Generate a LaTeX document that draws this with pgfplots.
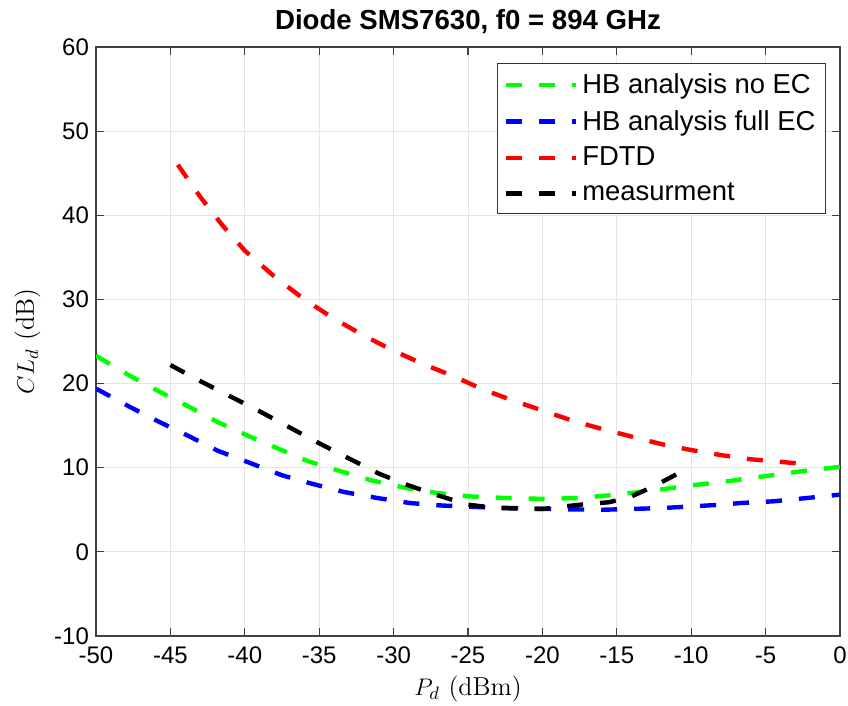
\documentclass[border=0pt]{standalone}
\usepackage{pgfplots}
\pgfplotsset{compat=1.18}
\usepackage{fontspec}
\setsansfont{Liberation Sans}
\begin{document}
\begin{tikzpicture}
\begin{axis}[
  scale only axis,
  width=372pt, height=294.5pt,
  xmin=-50, xmax=0, ymin=-10, ymax=60,
  xtick={-50,-45,...,0}, ytick={-10,0,...,60},
  /pgf/number format/assume math mode=true,
  tick label style={font=\sffamily\fontsize{12}{14}\selectfont},
  xticklabel style={yshift=-2pt},
  tick align=inside, major tick length=4pt,
  axis line style={black!75, line width=0.6pt},
  tick style={black!75, line width=0.6pt},
  grid=major, major grid style={gray!20, line width=0.5pt},
  title={\sffamily\bfseries\fontsize{13.8}{16}\selectfont Diode SMS7630, f0 = 894 GHz},
  title style={yshift=-3pt},
  xlabel={\fontsize{13}{15}\selectfont $P_d$ (dBm)},
  ylabel={\fontsize{13}{15}\selectfont $CL_d$ (dB)},
  xlabel style={yshift=1pt},
  ylabel style={yshift=0pt},
  legend style={at={(0.981,0.973)}, anchor=north east, draw=black!80, line width=0.5pt,
    font=\sffamily\fontsize{13.7}{16}\selectfont, row sep=3pt, inner sep=3pt},
  legend cell align=left,
  legend image code/.code={\draw[#1] (0pt,0pt) -- (35pt,0pt);},
  every axis plot/.append style={line width=2.2pt, dash pattern=on 8pt off 8.5pt},
]
\addplot[color={rgb,1:red,0;green,1;blue,0}] coordinates {
(-50,23.3) (-47.7,20.9) (-45.7,19.0) (-43.7,17.2) (-41.8,15.4) (-39.8,13.8) (-37.8,12.3)
(-35.8,10.8) (-33.6,9.6) (-31.5,8.5) (-29.2,7.6) (-27.1,7.0) (-25,6.6) (-22.5,6.4)
(-20,6.3) (-17.5,6.4) (-15,6.8) (-12.5,7.3) (-10,7.9) (-7.5,8.4) (-5,9.0) (-2.5,9.6) (0,10.1)};
\addlegendentry{HB analysis no EC}
\addplot[color=blue] coordinates {
(-50,19.4) (-47.7,17.2) (-45.7,15.4) (-43.7,13.7) (-41.8,12.0) (-39.7,10.6) (-37.5,9.1)
(-35.5,8.1) (-33.3,7.1) (-31.1,6.4) (-28.9,5.8) (-26.7,5.5) (-24,5.3) (-20,5.1)
(-16,5.0) (-12,5.2) (-8,5.6) (-6.7,5.8) (-4.5,6.0) (-2.2,6.4) (0,6.8)};
\addlegendentry{HB analysis full EC}
\addplot[color=red] coordinates {
(-44.5,46) (-43,42.2) (-41.5,38.8) (-40,35.8) (-38,32.7) (-36,30) (-34,27.7) (-32,25.7)
(-30,23.9) (-28,22.3) (-26,20.9) (-24,19.3) (-22,18) (-20,16.8) (-18,15.6) (-16,14.6)
(-14,13.7) (-12,12.8) (-10,12.1) (-8,11.5) (-6,11.0) (-4,10.7) (-2.8,10.5)};
\addlegendentry{FDTD}
\addplot[color=black] coordinates {
(-45,22.2) (-43,20.3) (-41,18.5) (-39,16.7) (-37,14.8) (-35,12.9) (-33,11.1) (-31,9.3)
(-29,7.9) (-27,6.7) (-25,5.6) (-23,5.2) (-20,5.1) (-17.5,5.6) (-15.5,5.9) (-14,6.6)
(-12.5,7.8) (-10.9,9.3)};
\addlegendentry{measurment}
\end{axis}
\pgfresetboundingbox
\path[use as bounding box] (current axis.south west) ++(-48pt,-35pt) rectangle ([shift={(4pt,23.5pt)}]current axis.north east);
\end{tikzpicture}
\end{document}
